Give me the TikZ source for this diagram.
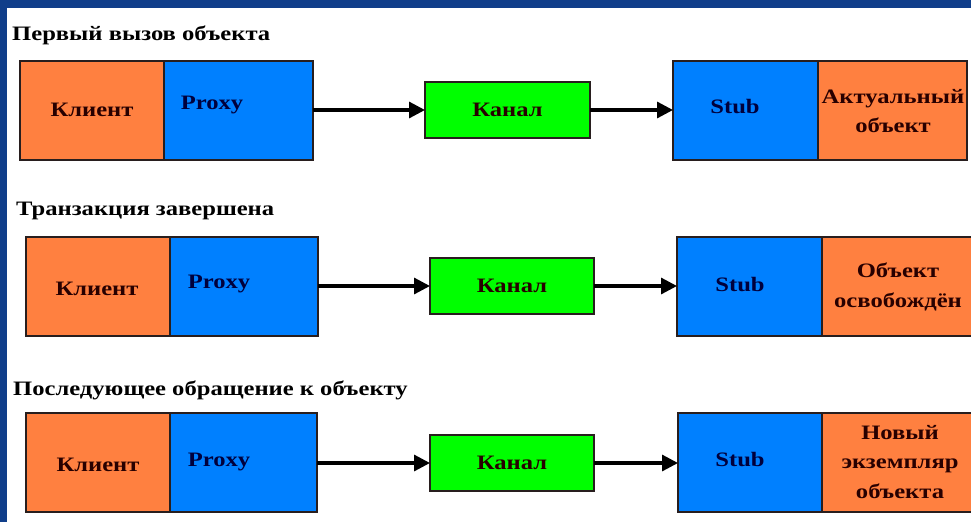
\documentclass[tikz,border=0pt]{standalone}
\usepackage{fontspec}
\setmainfont{Liberation Serif}[FakeStretch=1.2]
\usetikzlibrary{arrows.meta}
\definecolor{slideblue}{RGB}{16,62,138}
\definecolor{boxorange}{RGB}{255,128,64}
\definecolor{boxblue}{RGB}{0,128,255}
\definecolor{boxgreen}{RGB}{0,255,0}
\definecolor{edgecol}{RGB}{40,30,30}
\definecolor{navytext}{RGB}{0,0,60}
\definecolor{browntext}{RGB}{40,0,0}
\begin{document}
\begin{tikzpicture}[x=1pt,y=-1pt,
  box/.style={draw=edgecol,line width=1.8pt,anchor=north west,inner sep=0pt,outer sep=0pt},
  lbl/.style={font=\fontsize{20.5}{29.5}\selectfont\bfseries,text=browntext,inner sep=0pt,align=center},
  lblb/.style={lbl,text=navytext},
  ttl/.style={font=\fontsize{20.5}{24}\selectfont\bfseries,text=black,inner sep=0pt,anchor=base west},
  arr/.style={line width=3.2pt,-{Triangle[length=16pt,width=16pt]}}]
\useasboundingbox (0,0) rectangle (971,522);
\fill[slideblue] (0,0) rectangle (971,522);
\fill[white] (7,8) rectangle (971,522);
% ---------- row 1
\node[ttl] (t1) at (12,40) {Первый вызов объекта};
\node[box,fill=boxorange,minimum width=144,minimum height=99] (c1) at (20,61) {};
\node[box,fill=boxblue,minimum width=149,minimum height=99] (p1) at (164,61) {};
\node[box,fill=boxgreen,minimum width=165,minimum height=56] (k1) at (425,82) {};
\node[box,fill=boxblue,minimum width=145,minimum height=99] (s1) at (673,61) {};
\node[box,fill=boxorange,minimum width=149,minimum height=99] (o1) at (818,61) {};
\node[lbl] (lc1) at (92,110) {Клиент};
\node[lblb] (lp1) at (212,105) {Proxy};
\node[lbl] (lk1) at (k1.center) {Канал};
\node[lblb] (ls1) at (735,107) {Stub};
\node[lbl] (lo1) at (893,111) {Актуальный\\объект};
\draw[arr] (k1.west -| p1.east) -- (k1.west);
\draw[arr] (k1.east) -- (k1.east -| s1.west);
% ---------- row 2
\node[ttl] (t2) at (16,215) {Транзакция завершена};
\node[box,fill=boxorange,minimum width=144,minimum height=99] (c2) at (26,237) {};
\node[box,fill=boxblue,minimum width=148,minimum height=99] (p2) at (170,237) {};
\node[box,fill=boxgreen,minimum width=164,minimum height=56] (k2) at (430,258) {};
\node[box,fill=boxblue,minimum width=145,minimum height=99] (s2) at (677,237) {};
\node[box,fill=boxorange,minimum width=152,minimum height=99] (o2) at (822,237) {};
\node[lbl] (lc2) at (97,289) {Клиент};
\node[lblb] (lp2) at (219,284) {Proxy};
\node[lbl] (lk2) at (k2.center) {Канал};
\node[lblb] (ls2) at (740,285) {Stub};
\node[lbl] (lo2) at (898,287) {Объект\\освобождён};
\draw[arr] (k2.west -| p2.east) -- (k2.west);
\draw[arr] (k2.east) -- (k2.east -| s2.west);
% ---------- row 3
\node[ttl] (t3) at (13,395) {Последующее обращение к объекту};
\node[box,fill=boxorange,minimum width=144,minimum height=99] (c3) at (26,413) {};
\node[box,fill=boxblue,minimum width=147,minimum height=99] (p3) at (170,413) {};
\node[box,fill=boxgreen,minimum width=164,minimum height=56] (k3) at (430,435) {};
\node[box,fill=boxblue,minimum width=144,minimum height=99] (s3) at (678,413) {};
\node[box,fill=boxorange,minimum width=152,minimum height=99] (o3) at (822,413) {};
\node[lbl] (lc3) at (98,465) {Клиент};
\node[lblb] (lp3) at (219,462) {Proxy};
\node[lbl] (lk3) at (k3.center) {Канал};
\node[lblb] (ls3) at (740,460) {Stub};
\node[lbl] (lo3) at (900,462) {Новый\\экземпляр\\объекта};
\draw[arr] (k3.west -| p3.east) -- (k3.west);
\draw[arr] (k3.east) -- (k3.east -| s3.west);
\end{tikzpicture}
\end{document}
